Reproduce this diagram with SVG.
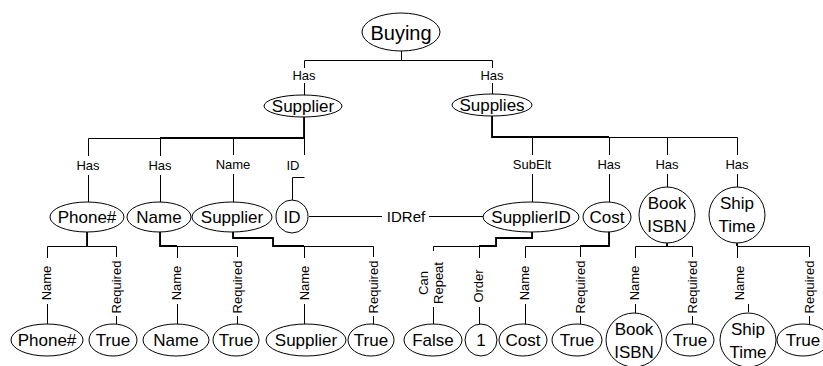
<svg xmlns="http://www.w3.org/2000/svg" width="823" height="366" viewBox="0 0 823 366">
<style>
.n ellipse{fill:#fff;stroke:#000;stroke-width:1}
.t{font-family:"Liberation Sans",Arial,sans-serif;font-size:17px;text-anchor:middle;dominant-baseline:central;fill:#000}
.l{font-family:"Liberation Sans",Arial,sans-serif;font-size:13px;text-anchor:middle;dominant-baseline:central;fill:#000}
.e{fill:none;stroke:#000;stroke-width:1}
.k{fill:none;stroke:#000;stroke-width:1.8}
</style>
<g id="connectors">
<path class="e" d="M401.5,51 V60.5 H304.5 V68 M304.5,83 V95"/>
<path class="e" d="M401.5,51 V60.5 H492.5 V68 M492.5,83 V94"/>
<path class="e" d="M304.5,117 V138.5 H88.5 V156 M88.5,175 V202"/>
<path class="e" d="M304.5,117 V138.5 H160.5 V156 M160.5,175 V202"/>
<path class="e" d="M304.5,117 V138.5 H233.5 V155 M233.5,174 V202"/>
<path class="e" d="M304.5,117 V155 M304.5,177.5 H292.5 V200"/>
<path class="e" d="M492.5,116 V137.5 H532.5 V155 M532.5,174 V202"/>
<path class="e" d="M492.5,116 V137.5 H609.5 V155 M609.5,174 V202"/>
<path class="e" d="M492.5,116 V137.5 H667.5 V155 M667.5,174 V187"/>
<path class="e" d="M492.5,116 V137.5 H737.5 V155 M737.5,174 V187"/>
<path class="e" d="M309,216.5 H382 M429,216.5 H483"/>
<path class="k" d="M304,117 V138 H160"/>
<path class="k" d="M492,116 V137 H609"/>
<path class="e" d="M87.5,232 V246.5 H47.5 V258 M47.5,304 V324"/>
<path class="e" d="M87.5,232 V246.5 H116.5 V257 M116.5,316 V324"/>
<path class="e" d="M160.5,232 V246.5 H177.5 V258 M177.5,304 V324"/>
<path class="e" d="M160.5,232 V246.5 H237.5 V257 M237.5,316 V324"/>
<path class="e" d="M233.5,232 V238.5 H273.5 V246.5 H304.5 V258 M304.5,304 V324"/>
<path class="e" d="M233.5,232 V238.5 H273.5 V246.5 H373.5 V257 M373.5,316 V324"/>
<path class="e" d="M532.5,232 V238.5 H496.5 V246.5 H433.5 V251 M433.5,307 V324"/>
<path class="e" d="M532.5,232 V238.5 H496.5 V246.5 H479.5 V258 M479.5,307 V324"/>
<path class="e" d="M609.5,232 V246.5 H525.5 V258 M525.5,304 V324"/>
<path class="e" d="M609.5,232 V246.5 H580.5 V257 M580.5,316 V324"/>
<path class="e" d="M667.5,243 V246.5 H635.5 V258 M635.5,304 V313"/>
<path class="e" d="M667.5,243 V246.5 H692.5 V257 M692.5,316 V324"/>
<path class="e" d="M737.5,243 V258 M748.5,304 V312"/>
<path class="e" d="M737.5,243 V246.5 H809.5 V257 M809.5,316 V324"/>
<path class="k" d="M87,232 V246"/>
<path class="k" d="M160,232 V246 H177"/>
<path class="k" d="M233,232 V238 H273 V246 H304"/>
<path class="k" d="M532,232 V238 H496 V246 H479"/>
<path class="k" d="M609,232 V246 H580"/>
<path class="k" d="M667,243 V246"/>
<path class="k" d="M737,243 V246"/>
</g>
<g id="labels">
<text class="l" x="304" y="75">Has</text>
<text class="l" x="492" y="75">Has</text>
<text class="l" x="88" y="165">Has</text>
<text class="l" x="160" y="165">Has</text>
<text class="l" x="233" y="164">Name</text>
<text class="l" x="293" y="165">ID</text>
<text class="l" x="532" y="164">SubElt</text>
<text class="l" x="609" y="164">Has</text>
<text class="l" x="667" y="164">Has</text>
<text class="l" x="737" y="164">Has</text>
<text class="l" x="406" y="216" style="font-size:15px">IDRef</text>
<text class="l" transform="translate(46,283) rotate(-90)">Name</text>
<text class="l" transform="translate(116,287) rotate(-90)">Required</text>
<text class="l" transform="translate(176,283) rotate(-90)">Name</text>
<text class="l" transform="translate(237,287) rotate(-90)">Required</text>
<text class="l" transform="translate(304,283) rotate(-90)">Name</text>
<text class="l" transform="translate(373,287) rotate(-90)">Required</text>
<text class="l" transform="translate(430,283) rotate(-90)"><tspan x="0" y="-7.5">Can</tspan><tspan x="0" y="7.5">Repeat</tspan></text>
<text class="l" transform="translate(478,286) rotate(-90)">Order</text>
<text class="l" transform="translate(524,283) rotate(-90)">Name</text>
<text class="l" transform="translate(580,287) rotate(-90)">Required</text>
<text class="l" transform="translate(634,283) rotate(-90)">Name</text>
<text class="l" transform="translate(692,287) rotate(-90)">Required</text>
<text class="l" transform="translate(739,283) rotate(-90)">Name</text>
<text class="l" transform="translate(809,287) rotate(-90)">Required</text>
</g>
<g id="n-buying" class="n"><ellipse cx="401" cy="32" rx="39" ry="19"/><text class="t" x="401" y="33" style="font-size:20px">Buying</text></g>
<g id="n-supplier" class="n"><ellipse cx="303" cy="106" rx="39" ry="11"/><text class="t" x="303" y="106">Supplier</text></g>
<g id="n-supplies" class="n"><ellipse cx="492" cy="105" rx="40" ry="11"/><text class="t" x="492" y="105">Supplies</text></g>
<g id="n-phone" class="n"><ellipse cx="87" cy="217" rx="37" ry="15"/><text class="t" x="87" y="217">Phone#</text></g>
<g id="n-name" class="n"><ellipse cx="159" cy="217" rx="32" ry="15"/><text class="t" x="159" y="217">Name</text></g>
<g id="n-suppliername" class="n"><ellipse cx="232" cy="217" rx="40" ry="15"/><text class="t" x="232" y="217">Supplier</text></g>
<g id="n-id" class="n"><ellipse cx="292" cy="216.5" rx="16" ry="16.5"/><text class="t" x="292" y="217">ID</text></g>
<g id="n-supplierid" class="n"><ellipse cx="531" cy="217" rx="48" ry="15"/><text class="t" x="531" y="217">SupplierID</text></g>
<g id="n-cost" class="n"><ellipse cx="607" cy="217" rx="24" ry="15"/><text class="t" x="607" y="217">Cost</text></g>
<g id="n-bookisbn" class="n"><ellipse cx="667" cy="215" rx="28" ry="28"/><text class="t" x="667" y="203">Book</text><text class="t" x="667" y="226">ISBN</text></g>
<g id="n-shiptime" class="n"><ellipse cx="737" cy="215" rx="28" ry="28"/><text class="t" x="737" y="203">Ship</text><text class="t" x="737" y="226">Time</text></g>
<g id="v-phone" class="n"><ellipse cx="47" cy="340" rx="36" ry="16"/><text class="t" x="47" y="340">Phone#</text></g>
<g id="v-true1" class="n"><ellipse cx="113" cy="340" rx="24" ry="16"/><text class="t" x="113" y="340">True</text></g>
<g id="v-name" class="n"><ellipse cx="176" cy="340" rx="33" ry="16"/><text class="t" x="176" y="340">Name</text></g>
<g id="v-true2" class="n"><ellipse cx="236" cy="340" rx="23" ry="16"/><text class="t" x="236" y="340">True</text></g>
<g id="v-supplier" class="n"><ellipse cx="306" cy="340" rx="40" ry="16"/><text class="t" x="306" y="340">Supplier</text></g>
<g id="v-true3" class="n"><ellipse cx="371" cy="340" rx="23" ry="16"/><text class="t" x="371" y="340">True</text></g>
<g id="v-false" class="n"><ellipse cx="433" cy="340" rx="29" ry="16"/><text class="t" x="433" y="340">False</text></g>
<g id="v-one" class="n"><ellipse cx="481" cy="340" rx="16" ry="16"/><text class="t" x="481" y="340">1</text></g>
<g id="v-cost" class="n"><ellipse cx="523" cy="340" rx="24" ry="16"/><text class="t" x="523" y="340">Cost</text></g>
<g id="v-true4" class="n"><ellipse cx="577" cy="340" rx="25" ry="16"/><text class="t" x="577" y="340">True</text></g>
<g id="v-bookisbn" class="n"><ellipse cx="634" cy="340" rx="28" ry="27"/><text class="t" x="634" y="329">Book</text><text class="t" x="634" y="352">ISBN</text></g>
<g id="v-true5" class="n"><ellipse cx="690" cy="340" rx="24" ry="16"/><text class="t" x="690" y="340">True</text></g>
<g id="v-shiptime" class="n"><ellipse cx="748" cy="340" rx="28" ry="27"/><text class="t" x="748" y="329">Ship</text><text class="t" x="748" y="352">Time</text></g>
<g id="v-true6" class="n"><ellipse cx="803" cy="340" rx="26" ry="16"/><text class="t" x="803" y="340">True</text></g>
</svg>
